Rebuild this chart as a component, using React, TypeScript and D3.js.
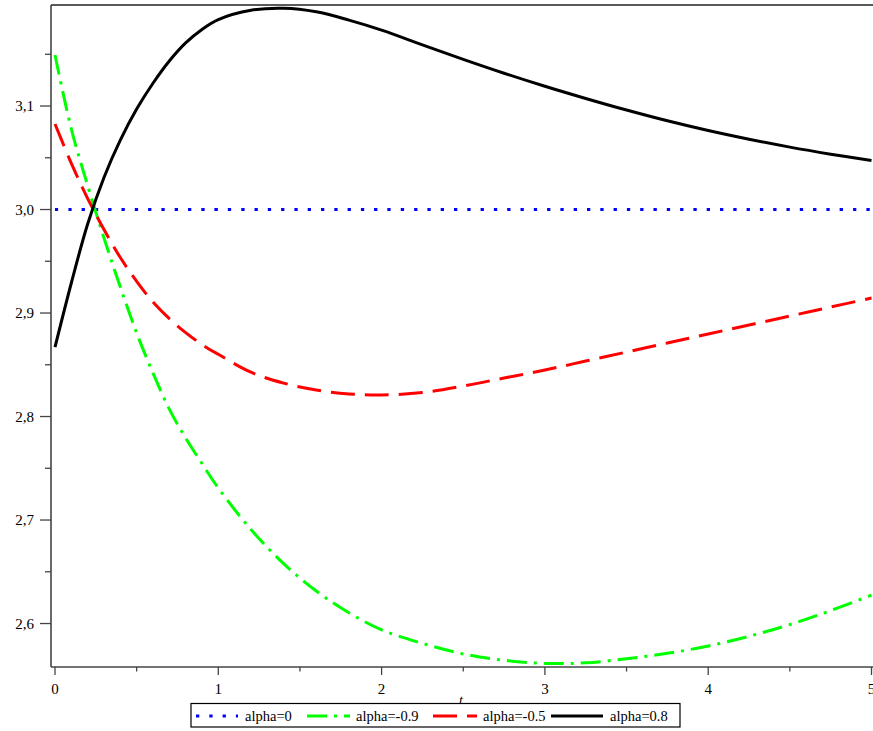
import React from "react";
import * as d3 from "d3";

const T = [0, 0.1, 0.2, 0.3, 0.4, 0.5, 0.6, 0.7, 0.8, 0.9, 1.0, 1.2, 1.4, 1.6, 1.8, 2.0, 2.25, 2.5, 2.75, 3.0, 3.25, 3.5, 3.75, 4.0, 4.25, 4.5, 4.75, 5.0];

const alpha0 = [3.0, 3.0, 3.0, 3.0, 3.0, 3.0, 3.0, 3.0, 3.0, 3.0, 3.0, 3.0, 3.0, 3.0, 3.0, 3.0, 3.0, 3.0, 3.0, 3.0, 3.0, 3.0, 3.0, 3.0, 3.0, 3.0, 3.0, 3.0];

const alphaM09 = [3.1493, 3.0778, 3.0232, 2.9725, 2.9251, 2.8807, 2.842, 2.8072, 2.7792, 2.7546, 2.7309, 2.6909, 2.6579, 2.6314, 2.6104, 2.5939, 2.5808, 2.5706, 2.5645, 2.5615, 2.562, 2.566, 2.5712, 2.5783, 2.5877, 2.599, 2.6125, 2.6275];

const alphaM05 = [3.0826, 3.0446, 3.0106, 2.9806, 2.9536, 2.9306, 2.9106, 2.8946, 2.8811, 2.8696, 2.8601, 2.8428, 2.8323, 2.8256, 2.8218, 2.8208, 2.8232, 2.8295, 2.8372, 2.8449, 2.8536, 2.8623, 2.871, 2.8797, 2.8884, 2.8971, 2.9058, 2.9145];

const alpha08 = [2.867, 2.929, 2.986, 3.031, 3.067, 3.097, 3.122, 3.1435, 3.161, 3.174, 3.1835, 3.1925, 3.1944, 3.191, 3.183, 3.1733, 3.1591, 3.1451, 3.1317, 3.1191, 3.1073, 3.0961, 3.0857, 3.0763, 3.0679, 3.0603, 3.0535, 3.0473];

const xMajor = [0, 1, 2, 3, 4, 5];
const xMinor = [0.5, 1.5, 2.5, 3.5, 4.5];
const yMajor = [2.6, 2.7, 2.8, 2.9, 3.0, 3.1];
const yMinor = [2.65, 2.75, 2.85, 2.95, 3.05, 3.15];
const yLabels = ["2,6", "2,7", "2,8", "2,9", "3,0", "3,1"];

const seriesNames = ["alpha=0", "alpha=-0.9", "alpha=-0.5", "alpha=0.8"];
const seriesColors = ["#0000ff", "#00ff00", "#ff0000", "#000000"];
const seriesDash = ["3.3 10", "20 7 3 7", "24 10", ""];
const seriesData = [alpha0, alphaM09, alphaM05, alpha08];

export default function App() {
  const W = 873;
  const H = 731;
  const x = d3.scaleLinear().domain([0, 5]).range([55, 871.5]);
  const y = d3.scaleLinear().domain([2.558, 3.1976]).range([667, 5]);
  const axisX = 51;
  const axisY = 667;
  const line = d3
    .line<number>()
    .x((_, i) => x(T[i]))
    .y((d) => y(d))
    .curve(d3.curveCatmullRom.alpha(0.5));

  const font = "Liberation Serif";
  const axisColor = "#444";

  const legendItems = [
    { sx: 196, ex: 238, tx: 245 },
    { sx: 307, ex: 350, tx: 356 },
    { sx: 433, ex: 477, tx: 483 },
    { sx: 551, ex: 603, tx: 610 },
  ];

  return (
    <svg width={W} height={H} style={{ position: "absolute", left: 0, top: 0, background: "#fff" }}>
      <rect x={0} y={0} width={W} height={H} fill="#fff" />
      <line x1={axisX} x2={W} y1={5} y2={5} stroke="#222" strokeWidth={1.5} />
      <line x1={axisX} x2={axisX} y1={5} y2={axisY} stroke={axisColor} strokeWidth={1.6} />
      {yMajor.map((v, i) => (
        <g key={"ym" + i}>
          <line x1={40} x2={axisX} y1={y(v)} y2={y(v)} stroke={axisColor} strokeWidth={1.3} />
          <text x={34} y={y(v) + 5} textAnchor="end" fontFamily={font} fontSize={15} fill="#000">
            {yLabels[i]}
          </text>
        </g>
      ))}
      {yMinor.map((v, i) => (
        <line key={"yn" + i} x1={45} x2={axisX} y1={y(v)} y2={y(v)} stroke={axisColor} strokeWidth={1.3} />
      ))}
      <line x1={axisX} x2={W} y1={axisY} y2={axisY} stroke={axisColor} strokeWidth={1.6} />
      {xMajor.map((v, i) => (
        <g key={"xm" + i}>
          <line x1={x(v)} x2={x(v)} y1={axisY} y2={675} stroke={axisColor} strokeWidth={1.3} />
          <text x={x(v)} y={693.5} textAnchor="middle" fontFamily={font} fontSize={15} fill="#000">
            {String(v)}
          </text>
        </g>
      ))}
      {xMinor.map((v, i) => (
        <line key={"xn" + i} x1={x(v)} x2={x(v)} y1={axisY} y2={671.5} stroke={axisColor} strokeWidth={1.3} />
      ))}
      <text x={461} y={705} textAnchor="middle" fontFamily={font} fontSize={14} fontStyle="italic" fill="#000">
        t
      </text>

      {seriesData.map((d, i) => (
        <path
          key={"s" + i}
          d={line(d) || ""}
          fill="none"
          stroke={seriesColors[i]}
          strokeWidth={3}
          strokeDasharray={seriesDash[i] || undefined}
        />
      ))}

      <rect x={191} y={703.5} width={489} height={23.5} fill="#fff" stroke="#000" strokeWidth={1.2} />
      {legendItems.map((it, i) => (
        <g key={"lg" + i}>
          <line
            x1={it.sx}
            x2={it.ex}
            y1={716}
            y2={716}
            stroke={seriesColors[i]}
            strokeWidth={3}
            strokeDasharray={seriesDash[i] || undefined}
          />
          <text x={it.tx} y={720.5} fontFamily={font} fontSize={14.5} fill="#000">
            {seriesNames[i]}
          </text>
        </g>
      ))}
    </svg>
  );
}
